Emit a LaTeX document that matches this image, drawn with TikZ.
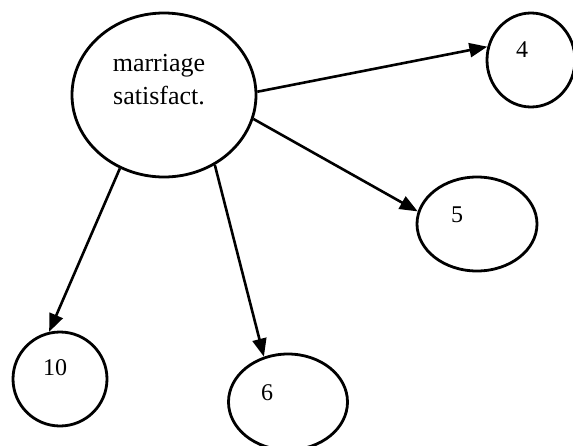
\documentclass[tikz,border=0pt]{standalone}
\usepackage{fontspec}
\setmainfont{Liberation Serif}
\usetikzlibrary{shapes.geometric,arrows.meta}
\begin{document}
\begin{tikzpicture}[x=1pt,y=-1pt,
  oval/.style={draw=black,line width=2.8pt,ellipse,inner sep=0pt},
  txt/.style={font=\fontsize{26}{33}\selectfont,align=center,inner sep=0pt},
  num/.style={font=\fontsize{24}{28}\selectfont,inner sep=0pt},
  arr/.style={line width=2.6pt,-{Triangle[length=18pt,width=14pt]}}]
\useasboundingbox (0,0) rectangle (573,445);
\node[oval,minimum width=184pt,minimum height=164pt] (big) at (164,95) {};
\node[oval,minimum width=88pt,minimum height=94pt] (n4) at (531,60) {};
\node[oval,minimum width=120pt,minimum height=94pt] (n5) at (477,224) {};
\node[oval,minimum width=94pt,minimum height=94pt] (n10) at (60,379) {};
\node[oval,minimum width=119pt,minimum height=96pt] (n6) at (288,402) {};
\node[txt] (tbig) at (159,80) {marriage\\satisfact.};
\node[num] (t4) at (522,50) {4};
\node[num] (t5) at (457,215) {5};
\node[num] (t10) at (55,368) {10};
\node[num] (t6) at (267,393) {6};
\draw[arr] (big.2) -- (n4.163);
\draw[arr] (big.-15.7) -- (n5.168.5);
\draw[arr] (big.239.6) -- (n10.103);
\draw[arr] (big.-54.5) -- (n6.118);
\end{tikzpicture}
\end{document}
